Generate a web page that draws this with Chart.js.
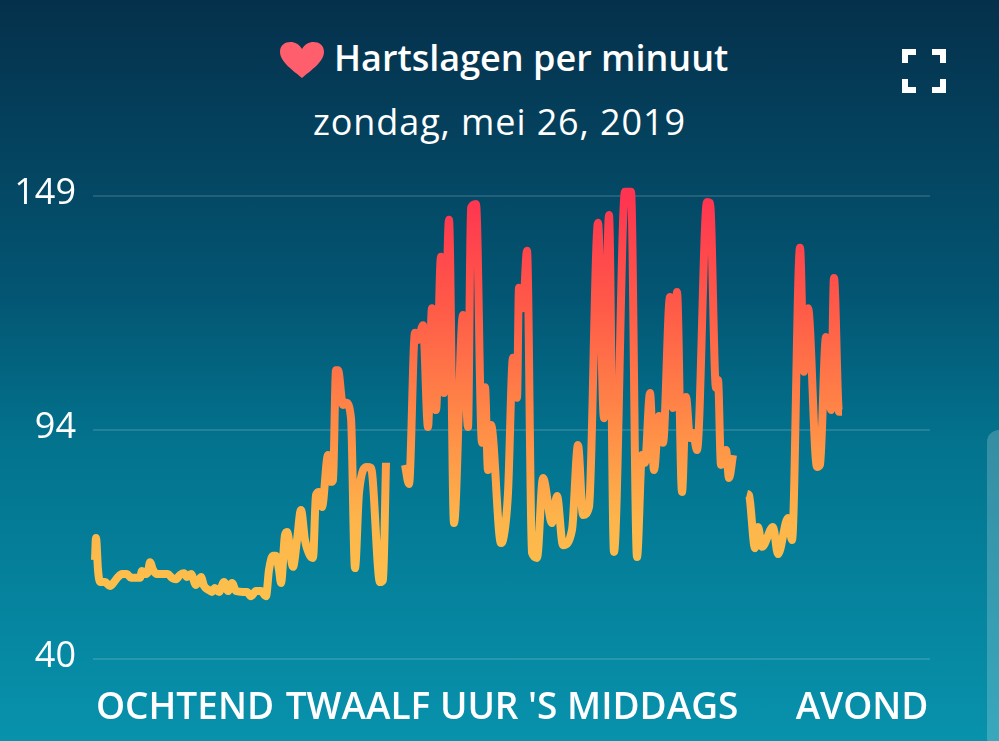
<!DOCTYPE html>
<html>
<head>
<meta charset="utf-8">
<title>Hartslagen per minuut</title>
<script src="https://cdn.jsdelivr.net/npm/chart.js@4"></script>
<style>
  html, body { margin: 0; padding: 0; width: 999px; height: 741px; overflow: hidden; }
  body { position: relative; color: #fff; font-family: "Open Sans", sans-serif;
         background: linear-gradient(to bottom, #05304b 0%, #035673 40%, #03738e 60%, #0892ac 100%); }
  canvas { position: absolute; left: 0; top: 0; }
  .head { position: absolute; white-space: nowrap; }
  #title { left: 334px; top: 36px; font-size: 36px; line-height: 44px; font-weight: 600; }
  #subtitle { left: 313px; top: 100px; font-size: 36px; line-height: 44px; font-weight: 400; letter-spacing: 0.9px; }
  #heart { position: absolute; left: 279px; top: 41px; }
  #expand { position: absolute; left: 901px; top: 48px; }
  #edge { position: absolute; left: 987px; top: 430px; width: 24px; height: 320px;
          border-radius: 12px; background: rgba(255,255,255,0.2); }
</style>
</head>
<body>
<div id="edge"></div>
<svg id="heart" width="46" height="38" viewBox="0 0 46 38">
  <path d="M23 37 C15 30 1 21 1 11 C1 4 6 1 11.500 1 C16 1 20.500 3.500 23 8 C25.500 3.500 30 1 34.500 1 C40 1 45 4 45 11 C45 21 31 30 23 37 Z" fill="#ff5f6d"/>
</svg>
<div id="title" class="head">Hartslagen per minuut</div>
<div id="subtitle" class="head">zondag, mei 26, 2019</div>
<svg id="expand" width="46" height="46" viewBox="0 0 46 46" fill="none" stroke="#fff" stroke-width="6">
  <path d="M4 15 V4 H15 M31 4 H42 V15 M4 31 V42 H15 M31 42 H42 V31"/>
</svg>
<canvas id="chart" width="999" height="741"></canvas>
<script>
// heart rate, null = gap in the recording
const sampleTimes = [
  2,3,5,7,12,17,21,25,29,34,38,47,49,52,55,57,60,64,75,79,83,87,91,94,98,103,108,111,116,119,122,126,131,135,139,143,150,154,158,163,168,173,
  176,180,183,186,188,192,194,200,204,208,212,217,220,223,226,229,235,238,240,243,245,250,253,258,262,266,274,278,287,290,293,303,
  312,316,322,325,330,335,339,343,348,351,356,361,370,375,378,383,389,392,395,398,408,410,415,420,424,426,430,434,439,444,450,459,464,470,479,485,490,496,
  505,511,516,521,532,538,544,549,552,557,561,566,570,577,580,584,589,593,597,600,604,614,617,623,625,628,633,636,640,647,
  654,656,662,665,669,680,685,695,699,707,711,715,724,727,733,738,741,746,749
];
const heartRate = [
  63.3,68.5,61,58.1,58.1,57.2,58.1,59.3,60,60,59.1,59.1,60.7,60,60.5,62.8,61,60,60,59.1,58.8,59.8,60.2,59.3,60,57.4,59.3,57.2,56.2,55.8,56.7,55.8,58.1,56,57.9,56,55.8,55.8,54.8,56,56,54.8,
  61,64.3,64.3,61,57.9,69.2,69.9,61.7,68,75.1,68,64.3,63.8,78.6,79.3,75.8,88,81.7,82.1,108,108,99.8,100.3,96.7,61.4,79.1,85.2,85,58.1,58.6,86.2,null,
  85.7,81.2,116.8,115.1,118.6,94.6,122.6,98.6,134.7,102.6,143.4,72,121,94.6,146.2,147.1,90.9,104,84.5,95.1,67.3,68,79.1,110.9,101.5,127.4,122.6,136.1,65,63.8,82.6,72,78.4,66.8,70.4,90.4,73.9,75.8,
  142.7,96.7,144.5,65.2,150,150,64,88,86.2,102.6,84.5,97.2,90.9,125.2,99.1,126.4,79.3,101.7,92,93.2,89.2,147.6,147.4,103.8,105.7,85.7,89.2,82.6,88,null,
  78.9,78.6,66.1,71.1,66.4,71.1,64.7,73.2,68,136.8,107.6,122.6,85.2,85.7,115.8,98.6,129.7,98.2,98.2
];
const yTicks = [40, 94, 149];
const xTicks = [92, 419, 769];
const xLabels = ["OCHTEND", "TWAALF UUR 'S MIDDAGS", "AVOND"];

const points = sampleTimes.map((t, i) => ({ x: t, y: heartRate[i] }));

function lineGradient(ctx) {
  const area = ctx.chart.chartArea;
  if (!area) return "#ff9a45";
  const g = ctx.chart.ctx.createLinearGradient(0, area.bottom, 0, area.top);
  g.addColorStop(0, "#fdca4d");
  g.addColorStop(0.3, "#fdb54b");
  g.addColorStop(0.5, "#ff8c47");
  g.addColorStop(0.75, "#ff5c48");
  g.addColorStop(1, "#ff3450");
  return g;
}

new Chart(document.getElementById("chart"), {
  type: "line",
  data: {
    datasets: [{
      data: points,
      borderColor: lineGradient,
      borderWidth: 8,
      borderJoinStyle: "round",
      borderCapStyle: "butt",
      cubicInterpolationMode: "monotone",
      pointRadius: 0,
      spanGaps: false,
      clip: false,
    }],
  },
  options: {
    responsive: false,
    animation: false,
    layout: { padding: { top: 196, right: 69 } },
    plugins: { legend: { display: false }, tooltip: { enabled: false } },
    scales: {
      x: {
        type: "linear",
        min: 0,
        max: 837,
        afterFit: (s) => { s.height = 82; },
        afterBuildTicks: (s) => { s.ticks = xTicks.map((v) => ({ value: v })); },
        grid: { display: false },
        border: { display: false },
        ticks: {
          autoSkip: false, maxRotation: 0, padding: 19, color: "#fff",
          font: { family: "'Open Sans', sans-serif", size: 37, weight: "600" },
          callback: (v) => xLabels[xTicks.indexOf(v)],
        },
      },
      y: {
        min: 40,
        max: 149,
        afterFit: (s) => { s.width = 93; },
        afterBuildTicks: (s) => { s.ticks = yTicks.map((v) => ({ value: v })); },
        grid: { color: "rgba(255,255,255,0.13)", lineWidth: 2, drawTicks: false },
        border: { display: false },
        ticks: {
          padding: 17, color: "#fff", labelOffset: -2,
          font: { family: "'Open Sans', sans-serif", size: 36, weight: "500" },
        },
      },
    },
  },
});
</script>
</body>
</html>
